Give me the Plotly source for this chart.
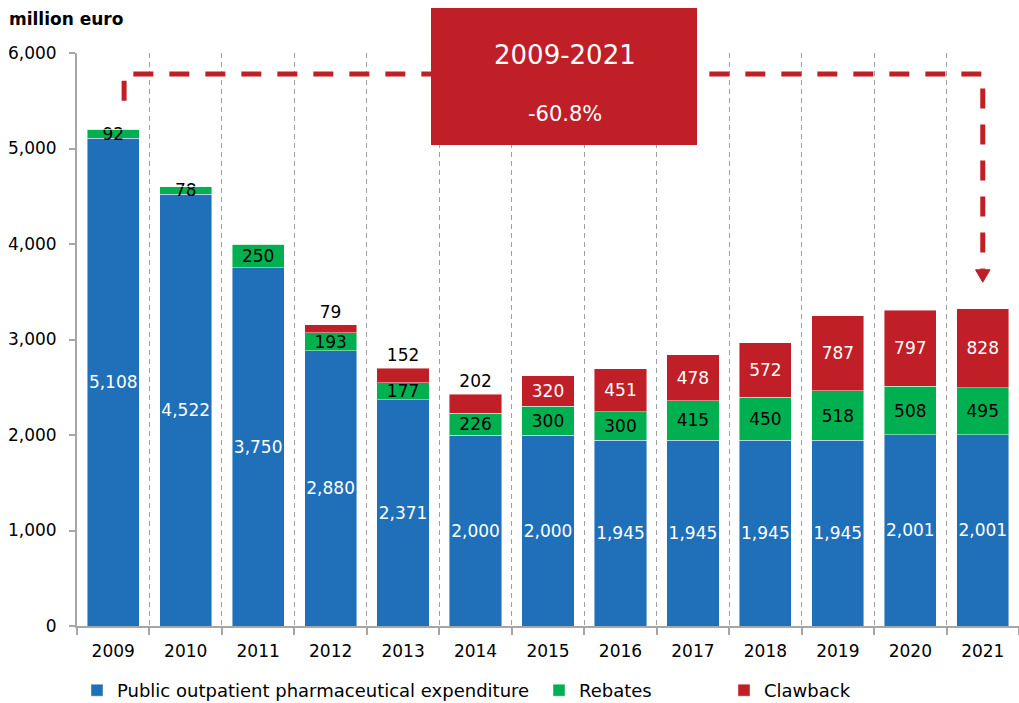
import plotly.graph_objects as go

years = ["2009", "2010", "2011", "2012", "2013", "2014", "2015",
         "2016", "2017", "2018", "2019", "2020", "2021"]
public_exp = [5108, 4522, 3750, 2880, 2371, 2000, 2000, 1945, 1945, 1945, 1945, 2001, 2001]
rebates = [92, 78, 250, 193, 177, 226, 300, 300, 415, 450, 518, 508, 495]
clawback = [0, 0, 0, 79, 152, 202, 320, 451, 478, 572, 787, 797, 828]
change_period = "2009-2021"
change_pct = "-60.8%"

BLUE = "#1F70B8"
GREEN = "#00B050"
RED = "#C01F27"
FONT = "DejaVu Sans, Verdana, sans-serif"

x = list(range(len(years)))
bar_w = 0.72
seg_line = dict(width=0.8, color="rgba(255,255,255,0.55)")

fig = go.Figure()
fig.add_trace(go.Bar(
    x=x, y=public_exp, width=bar_w, name="Public outpatient pharmaceutical expenditure",
    marker=dict(color=BLUE, line=seg_line),
    texttemplate="%{y:,.0f}", textposition="inside", textangle=0,
    insidetextanchor="middle",
    insidetextfont=dict(color="white", size=17, family=FONT),
    constraintext="none", legend="legend",
))
fig.add_trace(go.Bar(
    x=x, y=rebates, width=bar_w, name="Rebates",
    marker=dict(color=GREEN, line=seg_line),
    texttemplate="%{y:,.0f}", textposition="inside", textangle=0,
    insidetextanchor="middle",
    insidetextfont=dict(color="black", size=17, family=FONT),
    constraintext="none", legend="legend2",
))
claw_text = [f"{v:,}" if v else "" for v in clawback]
claw_pos = ["outside" if v < 250 else "inside" for v in clawback]
fig.add_trace(go.Bar(
    x=x, y=clawback, width=bar_w, name="Clawback",
    marker=dict(color=RED, line=seg_line),
    text=claw_text, textposition=claw_pos, textangle=0,
    insidetextanchor="middle",
    insidetextfont=dict(color="white", size=17, family=FONT),
    outsidetextfont=dict(color="black", size=17, family=FONT),
    constraintext="none", cliponaxis=False, legend="legend3",
))

# plot area geometry (pixels) used for the paper-positioned overlay
L, R, T, B = 77, 0, 53, 77
W, H = 1019, 703
pw, ph = W - L - R, H - T - B

def px_x(p):
    return (p - L) / pw

def px_y(p):
    return (H - B - p) / ph

# dashed bracket from the first to the last year, ending in an arrow
x_left, x_right = 0.15, 12.0
y_top, y_start, y_end = 5780, 5500, 3730
fig.add_shape(type="path",
              path=f"M {x_left},{y_start} L {x_left},{y_top} L {x_right},{y_top} L {x_right},{y_end}",
              xref="x", yref="y", line=dict(color=RED, width=5, dash="20px,16px"),
              layer="above")
fig.add_shape(type="path",
              path=f"M {x_right-0.1},{y_end} L {x_right+0.1},{y_end} L {x_right},{y_end-130} Z",
              xref="x", yref="y", fillcolor=RED, line=dict(color=RED, width=1),
              layer="above")

# summary box
fig.add_shape(type="rect", xref="paper", yref="paper",
              x0=px_x(431), x1=px_x(697), y0=px_y(145), y1=px_y(8),
              fillcolor=RED, line=dict(width=0), layer="above")
fig.add_annotation(xref="paper", yref="paper", x=px_x(565), y=px_y(55),
                   xanchor="center", yanchor="middle",
                   text=change_period, showarrow=False,
                   font=dict(color="white", size=26, family=FONT))
fig.add_annotation(xref="paper", yref="paper", x=px_x(565), y=px_y(114),
                   xanchor="center", yanchor="middle",
                   text=change_pct, showarrow=False,
                   font=dict(color="white", size=21, family=FONT))

# axis unit title
fig.add_annotation(xref="paper", yref="paper", x=px_x(7), y=px_y(19),
                   xanchor="left", yanchor="middle", text="<b>million euro</b>",
                   showarrow=False, font=dict(color="black", size=17, family=FONT))

leg_common = dict(orientation="h", yanchor="bottom", xanchor="left",
                  font=dict(size=18, family=FONT, color="black"),
                  bgcolor="rgba(0,0,0,0)", itemclick=False, itemdoubleclick=False)
legend_y = px_y(709)

fig.update_layout(
    width=W, height=H,
    margin=dict(l=L, r=R, t=T, b=B, autoexpand=False),
    barmode="stack",
    showlegend=True,
    plot_bgcolor="white", paper_bgcolor="white",
    font=dict(family=FONT, size=17, color="black"),
    hovermode=False,
    legend=dict(x=px_x(117 - 40), y=legend_y, **leg_common),
    legend2=dict(x=px_x(579 - 40), y=legend_y, **leg_common),
    legend3=dict(x=px_x(764 - 40), y=legend_y, **leg_common),
    xaxis=dict(
        range=[-0.5, len(years) - 0.5],
        tickvals=x, ticktext=years, ticks="",
        showgrid=False, zeroline=False, automargin=False,
        showline=True, linecolor="#A6A6A6", linewidth=2,
        tickfont=dict(size=17, family=FONT, color="black"),
        ticklabelstandoff=9,
        minor=dict(tickvals=[i - 0.5 for i in range(len(years) + 1)],
                   ticks="outside", ticklen=7, tickwidth=2, tickcolor="#A6A6A6",
                   showgrid=True, gridcolor="#A0A0A0", gridwidth=1, griddash="5px,4px"),
    ),
    yaxis=dict(
        range=[0, 6000], dtick=1000, tickformat=",",
        showgrid=False, zeroline=False, automargin=False,
        showline=True, linecolor="#A6A6A6", linewidth=2,
        ticks="outside", ticklen=6, tickwidth=2, tickcolor="#A6A6A6",
        tickfont=dict(size=17, family=FONT, color="black"),
        ticklabelstandoff=9,
    ),
)

fig.write_html("out.html")
